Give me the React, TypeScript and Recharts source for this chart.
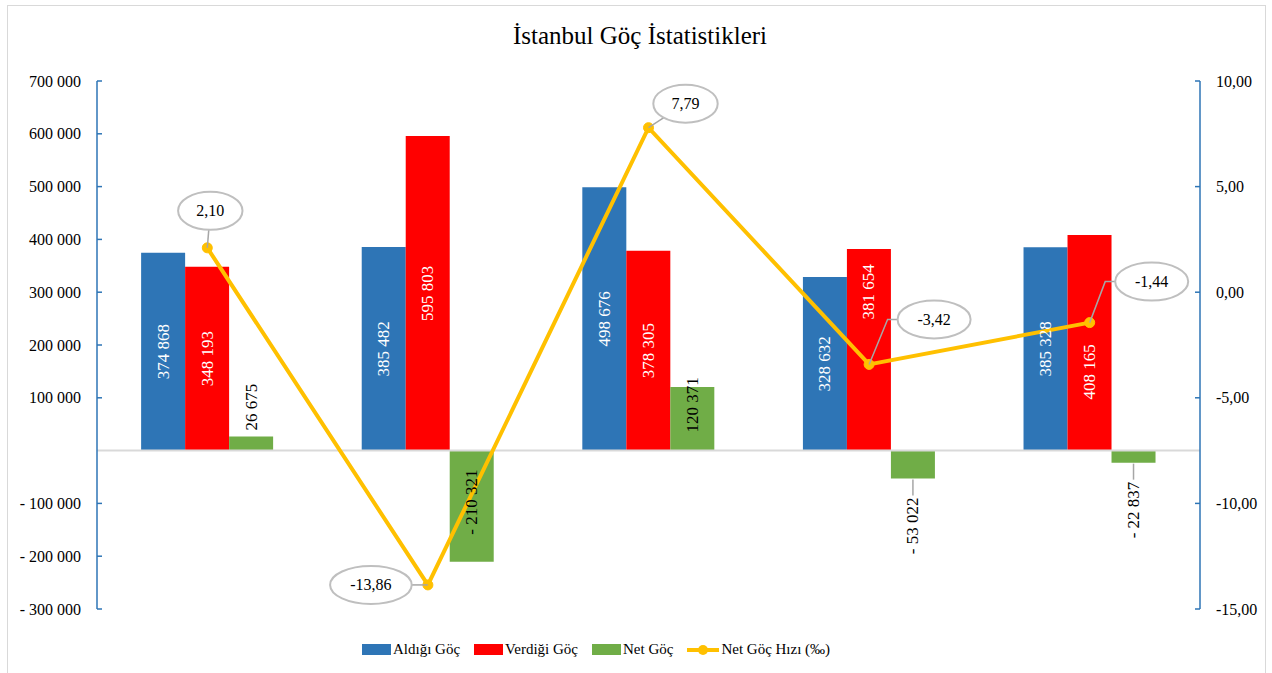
import React from 'react';
import { ComposedChart, Bar, Line, XAxis, YAxis, ReferenceLine, LabelList } from 'recharts';

const categories = ['2007-2008', '2017-2018', '2018-2019', '2019-2020', '2020-2021'];
const aldigiGoc = [374868, 385482, 498676, 328632, 385328];
const verdigiGoc = [348193, 595803, 378305, 381654, 408165];
const netGoc = [26675, -210321, 120371, -53022, -22837];
const netGocHizi = [2.1, -13.86, 7.79, -3.42, -1.44];

const leftTicks = [-300000, -200000, -100000, 100000, 200000, 300000, 400000, 500000, 600000, 700000];
const rightTicks = [-15, -10, -5, 0, 5, 10];

const data = categories.map((c, i) => ({
  name: c,
  aldigi: aldigiGoc[i],
  verdigi: verdigiGoc[i],
  net: netGoc[i],
  hiz: netGocHizi[i],
}));

const FONT = '"Liberation Serif", "Times New Roman", serif';
const BLUE = '#2E75B6';
const RED = '#FF0000';
const GREEN = '#70AD47';
const YELLOW = '#FFC000';
const AXIS = '#2E75B6';

const W = 1272;
const H = 673;
const M = { top: 81, right: 0, bottom: 64, left: 0 };
const LEFT_W = 97;
const RIGHT_W = 72;
const PLOT_L = M.left + LEFT_W;
const PLOT_R = W - M.right - RIGHT_W;
const PLOT_T = M.top;
const PLOT_B = H - M.bottom;
const ZERO_Y = PLOT_T + ((PLOT_B - PLOT_T) * 700000) / 1000000;

const fmtInt = (v: number) => {
  const s = Math.abs(Math.round(v)).toString().replace(/\B(?=(\d{3})+(?!\d))/g, ' ');
  return v < 0 ? '- ' + s : s;
};
const fmtDec = (v: number) => v.toFixed(2).replace('.', ',');

const LeftTick = (props: any) => {
  const { y, payload } = props;
  return (
    <g>
      <line x1={PLOT_L} x2={PLOT_L + 5} y1={y} y2={y} stroke={AXIS} strokeWidth={1.5} />
      <text x={PLOT_L - 16} y={y} textAnchor="end" dominantBaseline="central" fontFamily={FONT} fontSize={16} fill="#000">
        {fmtInt(payload.value)}
      </text>
    </g>
  );
};

const RightTick = (props: any) => {
  const { y, payload } = props;
  return (
    <g>
      <line x1={PLOT_R - 5} x2={PLOT_R} y1={y} y2={y} stroke={AXIS} strokeWidth={1.5} />
      <text x={PLOT_R + 16} y={y} textAnchor="start" dominantBaseline="central" fontFamily={FONT} fontSize={16} fill="#000">
        {fmtDec(payload.value)}
      </text>
    </g>
  );
};

const CatTick = (props: any) => {
  const { x, payload } = props;
  return (
    <text x={x} y={ZERO_Y + 24} textAnchor="middle" dominantBaseline="central" fontFamily={FONT} fontSize={16} fill="#000">
      {payload.value}
    </text>
  );
};

// small manual nudges of in-bar labels (px), as in the original
const blueShift = [0, 0, 0, 0, 0];
const redShift = [0, 0, 0, -58, 29];

const inBarLabel = (color: string, shift: number[]) => (props: any) => {
  const { x, y, width, height, value, index } = props;
  const top = Math.min(y, y + height);
  const bot = Math.max(y, y + height);
  const cx = x + width / 2;
  const cy = (top + bot) / 2 + (shift[index] || 0);
  return (
    <text x={cx} y={cy} transform={`rotate(-90 ${cx} ${cy})`} textAnchor="middle" dominantBaseline="central"
      fontFamily={FONT} fontSize={17} fill={color}>
      {fmtInt(value)}
    </text>
  );
};

// where the Net Göç labels sit
const netLabelPos = ['above', 'center', 'center', 'below', 'below'];
const netShift = [0, -4, -14, 0, 0];

const NetLabel = (props: any) => {
  const { x, y, width, height, value, index } = props;
  const top = Math.min(y, y + height);
  const bot = Math.max(y, y + height);
  const cx = x + width / 2;
  const pos = netLabelPos[index];
  if (pos === 'above') {
    const ay = top - 6;
    return (
      <text x={cx} y={ay} transform={`rotate(-90 ${cx} ${ay})`} textAnchor="start" dominantBaseline="central"
        fontFamily={FONT} fontSize={17} fill="#000">
        {fmtInt(value)}
      </text>
    );
  }
  if (pos === 'below') {
    const ay = bot + 19;
    return (
      <g>
        <line x1={cx} x2={cx} y1={bot + 1} y2={bot + 17} stroke="#a6a6a6" strokeWidth={1.5} />
        <text x={cx} y={ay} transform={`rotate(-90 ${cx} ${ay})`} textAnchor="end" dominantBaseline="central"
          fontFamily={FONT} fontSize={17} fill="#000">
          {fmtInt(value)}
        </text>
      </g>
    );
  }
  const cy = (top + bot) / 2 + netShift[index];
  return (
    <text x={cx} y={cy} transform={`rotate(-90 ${cx} ${cy})`} textAnchor="middle" dominantBaseline="central"
      fontFamily={FONT} fontSize={17} fill="#000">
      {fmtInt(value)}
    </text>
  );
};

// callout placement relative to each point: dx, dy, leader type
const callouts: [number, number, string][] = [
  [3, -37, 'straight'],
  [-57, 0, 'straight'],
  [37, -24, 'straight'],
  [65, -45, 'elbow'],
  [62, -41, 'elbow'],
];

const RateLabel = (props: any) => {
  const { x, y, value, index } = props;
  const [dx, dy, kind] = callouts[index];
  const txt = fmtDec(value);
  const cx = x + dx;
  const cy = y + dy;
  const rx = txt.length * 4.3 + 15;
  const ry = 19;
  let leader: string;
  if (kind === 'elbow') {
    leader = `M${x},${y} L${cx - rx - 10},${cy} L${cx - rx},${cy}`;
  } else {
    const vx = cx - x;
    const vy = cy - y;
    const t = 1 / Math.sqrt((vx / rx) ** 2 + (vy / ry) ** 2);
    leader = `M${x},${y} L${cx - t * vx},${cy - t * vy}`;
  }
  return (
    <g>
      <path d={leader} stroke="#a6a6a6" strokeWidth={1.5} fill="none" />
      <ellipse cx={cx} cy={cy} rx={rx} ry={ry} fill="#fff" stroke="#bfbfbf" strokeWidth={2} />
      <text x={cx} y={cy} textAnchor="middle" dominantBaseline="central" fontFamily={FONT} fontSize={16} fill="#000">
        {txt}
      </text>
    </g>
  );
};

const legendItems = [
  { label: 'Aldığı Göç', color: BLUE, line: false },
  { label: 'Verdiği Göç', color: RED, line: false },
  { label: 'Net Göç', color: GREEN, line: false },
  { label: 'Net Göç Hızı (‰)', color: YELLOW, line: true },
];

export default function App() {
  return (
    <div style={{ position: 'absolute', left: 0, top: 0, width: W, height: H, background: '#fff', overflow: 'hidden' }}>
      <div style={{ position: 'absolute', left: 7, top: 5, width: 1257, height: 700, border: '1px solid #d9d9d9' }} />
      <div style={{ position: 'absolute', left: 0, top: 22, width: W, textAlign: 'center', fontFamily: FONT, fontSize: 25, color: '#000', paddingLeft: 4 }}>
        İstanbul Göç İstatistikleri
      </div>
      <ComposedChart width={W} height={H} data={data} margin={M} barCategoryGap="20%" barGap={0}>
        <XAxis dataKey="name" height={0} axisLine={false} tickLine={false} tick={<CatTick />} interval={0} />
        <YAxis yAxisId="left" width={LEFT_W} domain={[-300000, 700000]} ticks={leftTicks} interval={0}
          axisLine={{ stroke: AXIS, strokeWidth: 1.5 }} tickLine={false} tick={<LeftTick />} allowDataOverflow />
        <YAxis yAxisId="right" orientation="right" width={RIGHT_W} domain={[-15, 10]} ticks={rightTicks} interval={0}
          axisLine={{ stroke: AXIS, strokeWidth: 1.5 }} tickLine={false} tick={<RightTick />} allowDataOverflow />
        <ReferenceLine yAxisId="left" y={0} stroke="#d9d9d9" strokeWidth={2} />
        <Bar yAxisId="left" dataKey="aldigi" fill={BLUE} isAnimationActive={false}>
          <LabelList dataKey="aldigi" content={inBarLabel('#fff', blueShift)} />
        </Bar>
        <Bar yAxisId="left" dataKey="verdigi" fill={RED} isAnimationActive={false}>
          <LabelList dataKey="verdigi" content={inBarLabel('#fff', redShift)} />
        </Bar>
        <Bar yAxisId="left" dataKey="net" fill={GREEN} isAnimationActive={false}>
          <LabelList dataKey="net" content={<NetLabel />} />
        </Bar>
        <Line yAxisId="right" dataKey="hiz" stroke={YELLOW} strokeWidth={4}
          dot={{ r: 5, fill: YELLOW, stroke: YELLOW, strokeWidth: 1 }} isAnimationActive={false}>
          <LabelList dataKey="hiz" content={<RateLabel />} />
        </Line>
      </ComposedChart>
      <div style={{ position: 'absolute', left: 362, top: 641, display: 'flex', alignItems: 'center', fontFamily: FONT, fontSize: 15, color: '#000' }}>
        {legendItems.map((it) => (
          <div key={it.label} style={{ display: 'flex', alignItems: 'center', marginRight: 14 }}>
            {it.line ? (
              <svg width={32} height={12} style={{ marginRight: 2 }}>
                <line x1={0} x2={32} y1={6} y2={6} stroke={it.color} strokeWidth={4} />
                <circle cx={16} cy={6} r={5} fill={it.color} />
              </svg>
            ) : (
              <div style={{ width: 29, height: 11, background: it.color, marginRight: 2 }} />
            )}
            <span>{it.label}</span>
          </div>
        ))}
      </div>
    </div>
  );
}
